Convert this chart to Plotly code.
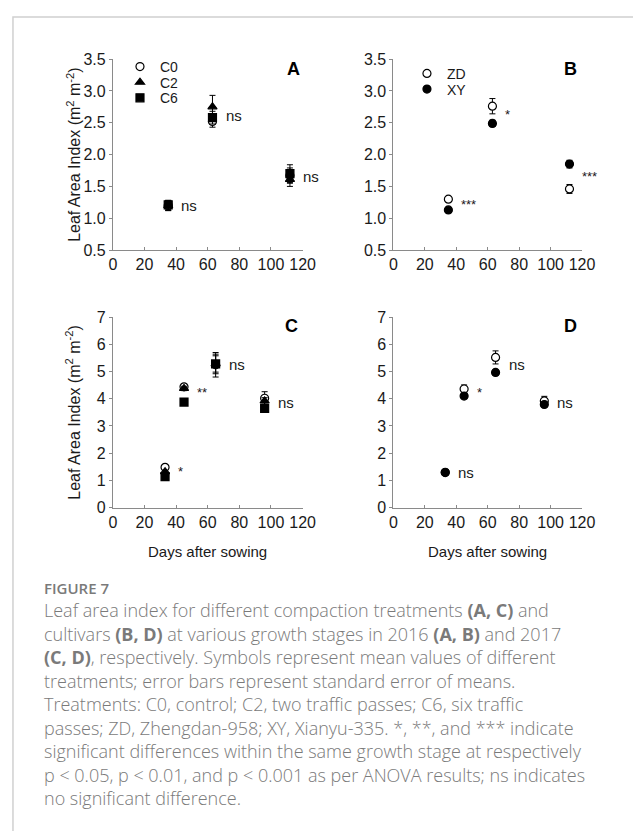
import plotly.graph_objects as go

# page has an 8px body margin; the figure is sized to fit inside the window
OFF = 8
W, H = 641 - 2 * OFF, 839 - 2 * OFF

# ---------------- data ----------------
A_days = [35, 63, 112]
A_C0 = [1.20, 2.52, 1.67]
A_C0_err = [0.08, 0.09, 0.12]
A_C2 = [1.20, 2.75, 1.61]
A_C2_err = [0.08, 0.18, 0.11]
A_C6 = [1.21, 2.58, 1.70]
A_C6_err = [0.07, 0.10, 0.14]
A_sig = ["ns", "ns", "ns"]

B_days = [35, 63, 112]
B_ZD = [1.30, 2.76, 1.46]
B_ZD_err = [0.03, 0.12, 0.07]
B_XY = [1.13, 2.49, 1.85]
B_XY_err = [0.03, 0.05, 0.06]
B_sig = ["***", "*", "***"]

C_days = [33, 45, 65, 96]
C_C0 = [1.48, 4.44, 5.25, 4.02]
C_C0_err = [0.05, 0.10, 0.45, 0.24]
C_C2 = [1.32, 4.38, 5.28, 3.92]
C_C2_err = [0.05, 0.08, 0.30, 0.12]
C_C6 = [1.14, 3.88, 5.28, 3.65]
C_C6_err = [0.05, 0.05, 0.36, 0.08]
C_sig = ["*", "**", "ns", "ns"]

D_days = [33, 45, 65, 96]
D_ZD = [1.30, 4.36, 5.52, 3.92]
D_ZD_err = [0.04, 0.15, 0.24, 0.17]
D_XY = [1.29, 4.10, 4.97, 3.79]
D_XY_err = [0.04, 0.08, 0.08, 0.08]
D_sig = ["ns", "*", "ns", "ns"]

x_ticks = [0, 20, 40, 60, 80, 100, 120]
AB_ticks = [0.5, 1.0, 1.5, 2.0, 2.5, 3.0, 3.5]
CD_ticks = [0, 1, 2, 3, 4, 5, 6, 7]

panel_letters = ["A", "B", "C", "D"]
y_title = "Leaf Area Index (m<sup>2</sup> m<sup>-2</sup>)"
x_title = "Days after sowing"

caption_head = "FIGURE 7"
caption_lines = [
    "Leaf area index for different compaction treatments <b>(A, C)</b> and",
    "cultivars <b>(B, D)</b> at various growth stages in 2016 <b>(A, B)</b> and 2017",
    "<b>(C, D)</b>, respectively. Symbols represent mean values of different",
    "treatments; error bars represent standard error of means.",
    "Treatments: C0, control; C2, two traffic passes; C6, six traffic",
    "passes; ZD, Zhengdan-958; XY, Xianyu-335. *, **, and *** indicate",
    "significant differences within the same growth stage at respectively",
    "p &lt; 0.05, p &lt; 0.01, and p &lt; 0.001 as per ANOVA results; ns indicates",
    "no significant difference.",
]

# ---------------- layout helpers (window pixel -> paper) ----------------
def px_x(p):
    return (p - OFF) / W

def px_y(p):
    return 1 - (p - OFF) / H

FONT = "Liberation Sans, Arial, sans-serif"
AXC = "#8a8a8a"
TXT = "#1a1a1a"

fig = go.Figure()

def add_series(x, y, err, name, symbol, fill, xa, ya, legend, show):
    fig.add_trace(go.Scatter(
        x=x, y=y, mode="markers", name=name,
        xaxis=xa, yaxis=ya, legend=legend, showlegend=show,
        marker=dict(symbol=symbol, size=8, color=fill,
                    line=dict(color="black", width=1.2)),
        error_y=dict(type="data", array=err, visible=True,
                     color="black", thickness=1, width=3),
    ))

# A (each legend entry in its own legend box so spacing can match)
add_series(A_days, A_C0, A_C0_err, "C0", "circle", "white", "x", "y", "legend", True)
add_series(A_days, A_C2, A_C2_err, "C2", "triangle-up", "black", "x", "y", "legend2", True)
add_series(A_days, A_C6, A_C6_err, "C6", "square", "black", "x", "y", "legend3", True)
# B
add_series(B_days, B_ZD, B_ZD_err, "ZD", "circle", "white", "x2", "y2", "legend4", True)
add_series(B_days, B_XY, B_XY_err, "XY", "circle", "black", "x2", "y2", "legend5", True)
# C
add_series(C_days, C_C0, C_C0_err, "C0", "circle", "white", "x3", "y3", "legend", False)
add_series(C_days, C_C2, C_C2_err, "C2", "triangle-up", "black", "x3", "y3", "legend2", False)
add_series(C_days, C_C6, C_C6_err, "C6", "square", "black", "x3", "y3", "legend3", False)
# D
add_series(D_days, D_ZD, D_ZD_err, "ZD", "circle", "white", "x4", "y4", "legend4", False)
add_series(D_days, D_XY, D_XY_err, "XY", "circle", "black", "x4", "y4", "legend5", False)

# significance labels (right of each group, at group mean)
def add_sig(days, groups, sigs, xref, yref):
    for i, d in enumerate(days):
        vals = [g[i] for g in groups]
        ym = sum(vals) / len(vals)
        s = sigs[i]
        fig.add_annotation(x=d + 7, y=ym, xref=xref, yref=yref, text=s,
                           showarrow=False, xanchor="left", yanchor="middle",
                           font=dict(family=FONT, size=15 if s == "ns" else 13, color=TXT))

add_sig(A_days, [A_C0, A_C2, A_C6], A_sig, "x", "y")
add_sig(B_days, [B_ZD, B_XY], B_sig, "x2", "y2")
add_sig(C_days, [C_C0, C_C2, C_C6], C_sig, "x3", "y3")
add_sig(D_days, [D_ZD, D_XY], D_sig, "x4", "y4")

# axes
xdoms = [(111.7, 306.7), (400, 594), (111.7, 306.7), (400, 594)]
ydoms = [(52, 247), (52, 247), (315.5, 510), (315.5, 510)]
for i in range(4):
    sfx = "" if i == 0 else str(i + 1)
    x0, x1 = xdoms[i]
    yt, yb = ydoms[i]
    yticks = AB_ticks if i < 2 else CD_ticks
    fig.layout["xaxis" + sfx] = dict(
        domain=[px_x(x0), px_x(x1)], range=[0, 120], anchor="y" + sfx,
        tickvals=x_ticks, ticks="inside", ticklen=3, tickcolor=AXC,
        showline=True, linecolor=AXC, linewidth=1, showgrid=False, zeroline=False,
        tickfont=dict(family=FONT, size=16, color=TXT),
    )
    fig.layout["yaxis" + sfx] = dict(
        domain=[px_y(yb), px_y(yt)],
        range=[yticks[0], yticks[-1]], anchor="x" + sfx,
        tickvals=yticks, tickformat=".1f" if i < 2 else "d",
        ticks="outside", ticklen=3, tickcolor=AXC,
        showline=True, linecolor=AXC, linewidth=1, showgrid=False, zeroline=False,
        tickfont=dict(family=FONT, size=16, color=TXT),
    )

# panel letters
letter_pos = [(297, 62), (582, 62), (295, 325), (582, 325)]
for L, (lx, ly) in zip(panel_letters, letter_pos):
    fig.add_annotation(x=px_x(lx), y=px_y(ly), xref="paper", yref="paper", text="<b>%s</b>" % L,
                       showarrow=False, xanchor="center", yanchor="middle",
                       font=dict(family=FONT, size=18, color="black"))

# y titles
for cy in [(52 + 247) / 2, (315.5 + 510) / 2]:
    fig.add_annotation(x=px_x(71), y=px_y(cy), xref="paper", yref="paper", text=y_title,
                       textangle=-90, showarrow=False, xanchor="center", yanchor="middle",
                       font=dict(family=FONT, size=16, color=TXT))
# x titles
for cx in [(111.7 + 306.7) / 2, (400 + 594) / 2]:
    fig.add_annotation(x=px_x(cx), y=px_y(555), xref="paper", yref="paper", text=x_title,
                       showarrow=False, xanchor="center", yanchor="middle",
                       font=dict(family=FONT, size=15, color=TXT))

# caption
CAPC = "#7a7a7a"
CAPF = "Open Sans, Noto Sans, sans-serif"
fig.add_annotation(x=px_x(39), y=px_y(592), xref="paper", yref="paper", text=caption_head,
                   showarrow=False, xanchor="left", yanchor="middle",
                   font=dict(family=CAPF, size=15, color=CAPC, weight=600))
for k, line in enumerate(caption_lines):
    fig.add_annotation(x=px_x(39), y=px_y(615 + 24 * k), xref="paper", yref="paper", text=line,
                       showarrow=False, xanchor="left", yanchor="middle",
                       font=dict(family=CAPF, size=18, color=CAPC, weight=300))

# frame
fig.add_shape(type="rect", xref="paper", yref="paper",
              x0=px_x(9), x1=px_x(660), y0=px_y(860), y1=px_y(9),
              line=dict(color="#d0d0d0", width=1.5), fillcolor="rgba(0,0,0,0)", layer="below")

# legends: one entry per legend box
leg_style = dict(xanchor="left", yanchor="middle", bgcolor="rgba(0,0,0,0)",
                 font=dict(family=FONT, size=14, color=TXT), itemwidth=30,
                 borderwidth=0)
leg_pos = {"legend": (119, 60), "legend2": (119, 76), "legend3": (119, 92),
           "legend4": (414, 67), "legend5": (414, 83)}
layout_legs = {k: dict(x=px_x(v[0]), y=px_y(v[1]), **leg_style) for k, v in leg_pos.items()}

fig.update_layout(
    width=W, height=H, margin=dict(l=0, r=0, t=0, b=0),
    paper_bgcolor="white", plot_bgcolor="white",
    **layout_legs,
)

fig.write_html("out.html")
